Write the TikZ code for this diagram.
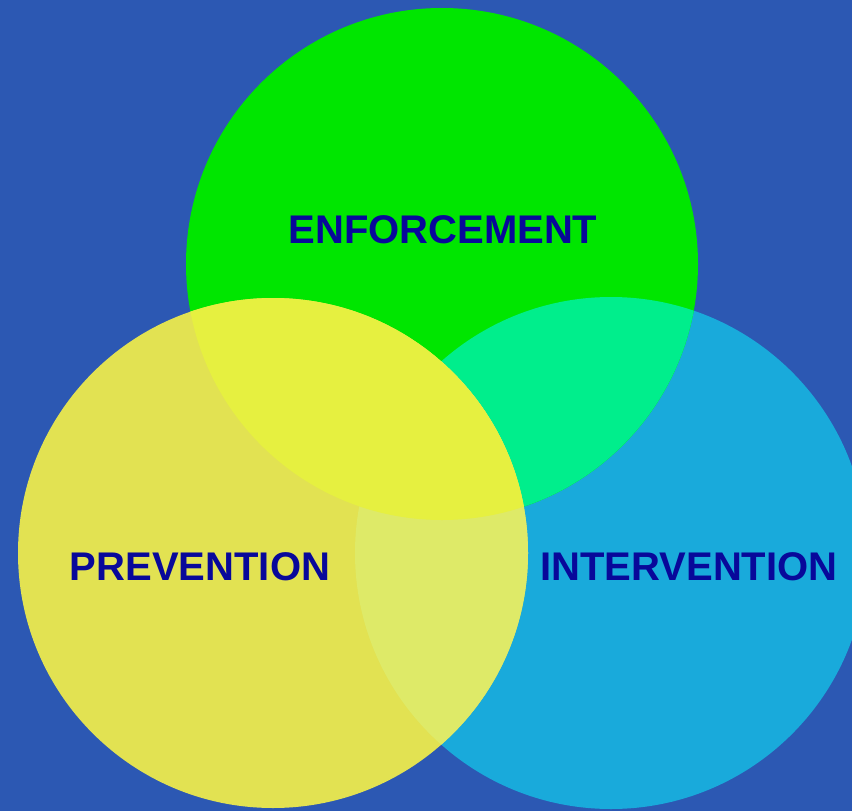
\documentclass[tikz,border=0pt]{standalone}
\usepackage{fontspec}
\setmainfont{Liberation Sans}
\definecolor{bgblue}{HTML}{2C58B3}
\definecolor{enfgreen}{HTML}{00E600}
\definecolor{intcyan}{HTML}{19AADB}
\definecolor{enfint}{HTML}{00EE8C}
\definecolor{prevyellow}{HTML}{E2E252}
\definecolor{prevenf}{HTML}{E6F040}
\definecolor{prevint}{HTML}{DEEA68}
\definecolor{labelblue}{HTML}{08089A}
\tikzset{
    label text/.style={font=\fontsize{40}{40}\selectfont\bfseries, text=labelblue, inner sep=0pt}
}
\begin{document}
\begin{tikzpicture}[x=1pt,y=-1pt]
    \fill[bgblue] (0,0) rectangle (852,811);
    \useasboundingbox (0,0) rectangle (852,811);
    \clip (0,0) rectangle (852,811);

    \coordinate (enf) at (442,264);
    \coordinate (prev) at (273,553);
    \coordinate (int) at (611,553);

    \fill[intcyan] (int) circle (256);
    \fill[enfgreen] (enf) circle (256);
    \begin{scope}
        \clip (int) circle (256);
        \fill[enfint] (enf) circle (256);
    \end{scope}

    % yellow lies over the others, a little see-through
    \fill[prevyellow] (prev) circle (255);
    \foreach \other/\mix in {int/prevint, enf/prevenf}
    {
        \begin{scope}
            \clip (prev) circle (255);
            \fill[\mix] (\other) circle (256);
        \end{scope}
    }

    \node[label text] (enforcement) at (443,230) {ENFORCEMENT};
    \node[label text] (prevention) at (200,567) {PREVENTION};
    \node[label text] (intervention) at (689,567) {INTERVENTION};

\end{tikzpicture}
\end{document}
